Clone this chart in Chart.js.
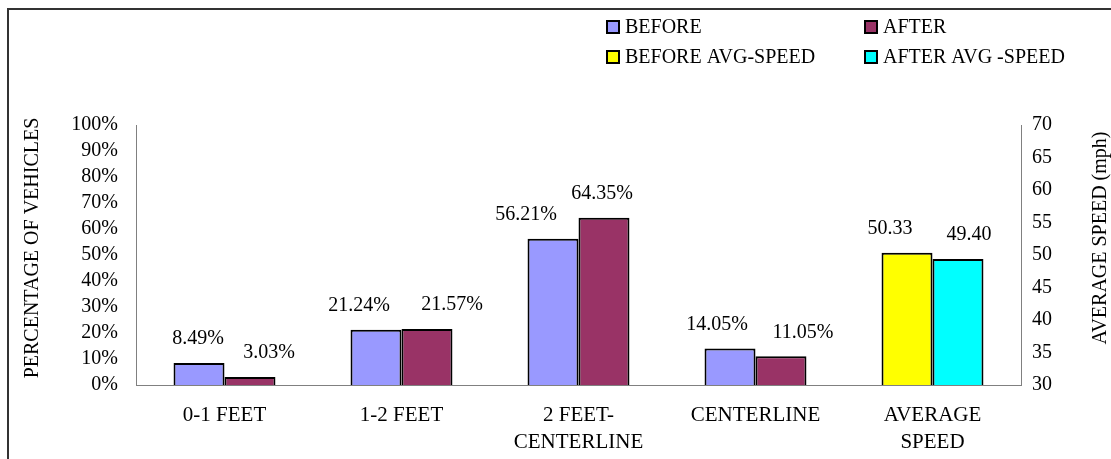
<!DOCTYPE html>
<html>
<head>
<meta charset="utf-8">
<script src="https://cdn.jsdelivr.net/npm/chart.js@4.4.0/dist/chart.umd.min.js"></script>
<style>
  html, body { margin: 0; padding: 0; background: #fff; }
  #wrap { width: 1111px; height: 459px; position: relative; }
</style>
</head>
<body>
<div id="wrap"><canvas id="chart"></canvas></div>
<script>
// data
const categories = [['0-1 FEET'], ['1-2 FEET'], ['2 FEET-', 'CENTERLINE'], ['CENTERLINE'], ['AVERAGE', 'SPEED']];
const beforeShare = [8.49, 21.24, 56.21, 14.05, null];
const afterShare = [3.03, 21.57, 64.35, 11.05, null];
const beforeSpeed = [null, null, null, null, 50.33];
const afterSpeed = [null, null, null, null, 49.40];

const serif = '"Liberation Serif", "Times New Roman", serif';

// hand-placed value labels, nudged sideways like the original
const labelShift = [[-1, -17, -27, -13, 0], [19, 25, -2, 22, 0], [0, 0, 0, 0, -17], [0, 0, 0, 0, 11]];

const extras = {
  id: 'extras',
  beforeDraw(chart) {
    const c = chart.ctx;
    c.save();
    c.strokeStyle = '#333';
    c.lineWidth = 2;
    c.beginPath();
    c.moveTo(8, chart.height);
    c.lineTo(8, 9);
    c.lineTo(chart.width, 9);
    c.stroke();
    c.restore();
  },
  afterDatasetsDraw(chart) {
    const c = chart.ctx;
    c.save();
    c.font = '20px ' + serif;
    c.fillStyle = '#000';
    c.textAlign = 'center';
    c.textBaseline = 'middle';
    chart.data.datasets.forEach((ds, i) => {
      chart.getDatasetMeta(i).data.forEach((bar, j) => {
        const v = ds.data[j];
        if (v == null) return;
        const txt = ds.yAxisID === 'y' ? v.toFixed(2) + '%' : v.toFixed(2);
        c.fillText(txt, bar.x + labelShift[i][j], bar.y - 24);
      });
    });

    // axis titles, both reading bottom to top
    const titles = [['PERCENTAGE OF VEHICLES', 33, 248], ['AVERAGE SPEED (mph)', 1101, 238]];
    titles.forEach(([t, x, y]) => {
      c.save();
      c.translate(x, y);
      c.rotate(-Math.PI / 2);
      c.fillText(t, 0, 0);
      c.restore();
    });

    // legend, 2 x 2 grid in the top right
    const cols = [607, 865], rows = [27, 57];
    c.textAlign = 'left';
    chart.data.datasets.forEach((ds, i) => {
      const x = cols[i % 2], y = rows[Math.floor(i / 2)];
      c.fillStyle = ds.backgroundColor;
      c.fillRect(x, y - 6, 12, 12);
      c.strokeStyle = '#000';
      c.lineWidth = 2;
      c.strokeRect(x, y - 6, 12, 12);
      c.fillStyle = '#000';
      c.fillText(ds.label, x + 18, y + 1);
    });
    c.restore();
  }
};

const bar = (label, data, color, axis) => ({
  label: label,
  data: data,
  yAxisID: axis,
  backgroundColor: color,
  borderColor: '#000',
  borderWidth: 2,
  borderSkipped: 'bottom',
  categoryPercentage: 0.576,
  barPercentage: 1
});

new Chart(document.getElementById('chart'), {
  type: 'bar',
  data: {
    labels: categories,
    datasets: [
      bar('BEFORE', beforeShare, '#9999ff', 'y'),
      bar('AFTER', afterShare, '#993366', 'y'),
      bar('BEFORE AVG-SPEED', beforeSpeed, '#ffff00', 'y1'),
      bar('AFTER AVG -SPEED', afterSpeed, '#00ffff', 'y1')
    ]
  },
  options: {
    responsive: true,
    maintainAspectRatio: false,
    animation: false,
    skipNull: true,
    layout: { padding: { top: 125, left: 23, right: 0, bottom: 0 } },
    plugins: {
      legend: { display: false },
      tooltip: { enabled: false }
    },
    scales: {
      x: {
        grid: { display: false, drawTicks: false },
        border: { display: true, color: '#808080', width: 1 },
        ticks: { color: '#000', padding: 17, font: { family: serif, size: 21, lineHeight: 1.29 }, maxRotation: 0, autoSkip: false },
        afterFit: s => { s.height = 74; }
      },
      y: {
        position: 'left',
        min: 0, max: 100,
        grid: { display: false, drawTicks: false },
        border: { display: true, color: '#808080', width: 1 },
        ticks: { stepSize: 10, autoSkip: false, color: '#000', padding: 18, font: { family: serif, size: 20 }, callback: v => v + '%' },
        afterFit: s => { s.width = 113; }
      },
      y1: {
        position: 'right',
        min: 30, max: 70,
        grid: { display: false, drawTicks: false },
        border: { display: true, color: '#808080', width: 1 },
        ticks: { stepSize: 5, autoSkip: false, color: '#000', padding: 11, font: { family: serif, size: 20 } },
        afterFit: s => { s.width = 90; }
      }
    }
  },
  plugins: [extras]
});
</script>
</body>
</html>
